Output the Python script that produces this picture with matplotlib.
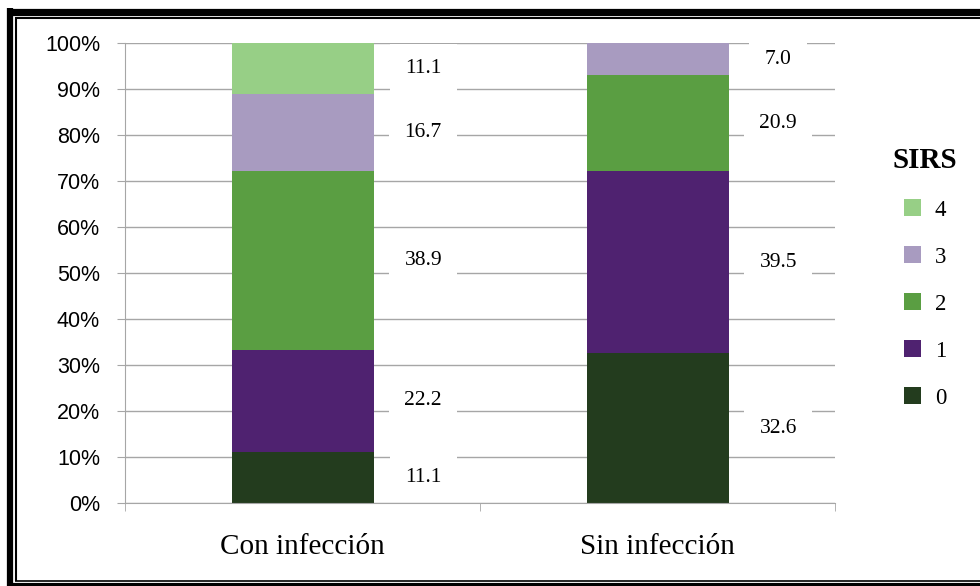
import matplotlib
matplotlib.use('Agg')
import matplotlib.pyplot as plt
from matplotlib.lines import Line2D
import numpy as np

# data (percent of each group)
categories = ['Con infección', 'Sin infección']
sirs_levels = ['0', '1', '2', '3', '4']
sirs_0 = [11.1, 32.6]
sirs_1 = [22.2, 39.5]
sirs_2 = [38.9, 20.9]
sirs_3 = [16.7, 7.0]
sirs_4 = [11.1, 0.0]
series = [sirs_0, sirs_1, sirs_2, sirs_3, sirs_4]
colors = ['#233c1e', '#4f2270', '#5a9e42', '#a89bc0', '#97cf86']

W, H = 980, 586
fig = plt.figure(figsize=(W / 100, H / 100), dpi=100)
ax = fig.add_axes([125 / W, 1 - 503 / H, 710 / W, 460 / H])

x = np.arange(len(categories))
bottom = np.zeros(len(categories))
for vals, col, lab in zip(series, colors, sirs_levels):
    ax.bar(x, vals, width=0.4, bottom=bottom, color=col, label=lab, zorder=2)
    for i, v in enumerate(vals):
        if v > 0:
            ax.text(x[i] + 0.34, bottom[i] + v / 2, f'{v:.1f}', ha='center', va='center',
                    fontsize=15.5, family='Liberation Serif', zorder=3,
                    bbox=dict(facecolor='white', edgecolor='none', pad=11))
    bottom += np.array(vals)

ax.set_xlim(-0.5, 1.5)
ax.set_ylim(0, 100)
ax.set_yticks(np.arange(0, 101, 10))
ax.set_yticklabels([f'{t}%' for t in range(0, 101, 10)], fontsize=15.5, family='Liberation Sans')
ax.tick_params(axis='y', length=6, color='#a6a6a6', pad=12)
ax.set_xticks(x)
ax.set_xticklabels(categories, fontsize=21, family='Liberation Serif')
ax.tick_params(axis='x', which='major', length=0, pad=22)
ax.set_xticks([-0.5, 0.5, 1.5], minor=True)
ax.tick_params(axis='x', which='minor', length=6, color='#a6a6a6')
ax.grid(axis='y', color='#a6a6a6', linewidth=1, zorder=0)
ax.set_axisbelow(True)
for s in ['top', 'right']:
    ax.spines[s].set_visible(False)
for s in ['left', 'bottom']:
    ax.spines[s].set_color('#a6a6a6')

handles, labels = ax.get_legend_handles_labels()
leg = fig.legend(handles[::-1], labels[::-1], title='SIRS', loc='upper left',
                 bbox_to_anchor=(872 / W, 1 - 126 / H), frameon=False,
                 prop={'family': 'Liberation Serif', 'size': 16.5},
                 handlelength=0.75, handleheight=0.75, handletextpad=0.6,
                 labelspacing=1.12)
leg.get_title().set_fontfamily('Liberation Serif')
leg.get_title().set_fontsize(21)
leg.get_title().set_fontweight('bold')
leg._legend_box.align = 'center'

# double black frame around the picture
def fline(xs, ys, lw):
    fig.add_artist(Line2D([v / W for v in xs], [1 - v / H for v in ys], color='black',
                          linewidth=lw, transform=fig.transFigure, solid_capstyle='butt'))

fline([7, W], [11.5, 11.5], 5.2)
fline([10, 10], [8, H], 4.5)
fline([15, W], [18, 18], 1.5)
fline([16, 16], [17, 581], 1.5)
fline([15, W], [580.5, 580.5], 1.2)
fline([7, W], [585, 585], 3)

fig.savefig('out.png', dpi=100)
